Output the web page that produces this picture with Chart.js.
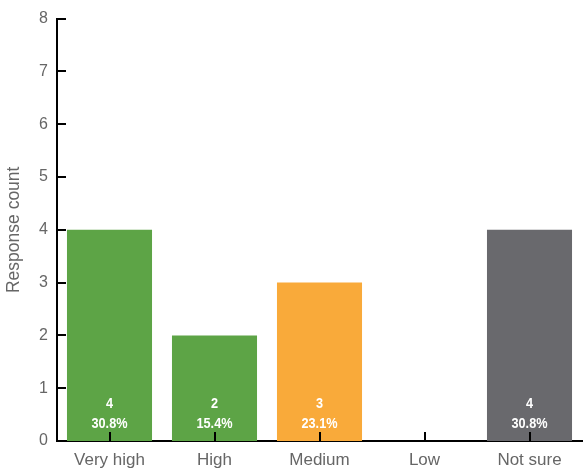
<!DOCTYPE html>
<html lang="en">
<head>
    <meta charset="UTF-8">
    <title>Response count</title>
    <script src="https://cdn.jsdelivr.net/npm/chart.js"></script>
    <style>
        body { margin: 0; background: #fff; }
        #wrap { width: 583px; height: 472px; }
    </style>
</head>
<body>
    <div id="wrap"><canvas id="chart"></canvas></div>

    <script>
        const categories = ['Very high', 'High', 'Medium', 'Low', 'Not sure'];
        const counts = [4, 2, 3, 0, 4];
        const barColors = ['#5da446', '#5da446', '#f9aa3a', '#5da446', '#69696d'];
        const yTicks = [0, 1, 2, 3, 4, 5, 6, 7, 8];

        const total = counts.reduce((a, b) => a + b, 0);

        // labels inside the bars, near the base (squeezed to look condensed)
        const barLabels = {
            id: 'barLabels',
            afterDatasetsDraw(chart) {
                const ctx = chart.ctx;
                const meta = chart.getDatasetMeta(0);
                const base = chart.scales.y.getPixelForValue(0);
                const sx = 0.82;
                ctx.save();
                ctx.fillStyle = '#fff';
                ctx.textAlign = 'center';
                ctx.textBaseline = 'middle';
                ctx.font = 'bold 15.5px "Liberation Sans", Arial, sans-serif';
                ctx.scale(sx, 1);
                meta.data.forEach((bar, i) => {
                    if (!counts[i]) return;
                    const pct = (counts[i] / total * 100).toFixed(1) + '%';
                    ctx.fillText(String(counts[i]), bar.x / sx, base - 37);
                    ctx.fillText(pct, bar.x / sx, base - 17);
                });
                ctx.restore();
            }
        };

        // ticks pointing inwards, drawn over the bars
        const innerTicks = {
            id: 'innerTicks',
            afterDatasetsDraw(chart) {
                const ctx = chart.ctx;
                const x = chart.scales.x, y = chart.scales.y;
                const left = chart.chartArea.left, bottom = chart.chartArea.bottom;
                ctx.save();
                ctx.strokeStyle = '#000';
                ctx.lineWidth = 2;
                ctx.beginPath();
                y.ticks.forEach((t, i) => {
                    const py = Math.round(y.getPixelForTick(i));
                    ctx.moveTo(left, py);
                    ctx.lineTo(left + 9, py);
                });
                x.ticks.forEach((t, i) => {
                    const px = Math.round(x.getPixelForTick(i));
                    ctx.moveTo(px, bottom);
                    ctx.lineTo(px, bottom - 9);
                });
                ctx.stroke();
                ctx.restore();
            }
        };

        new Chart(document.getElementById('chart'), {
            type: 'bar',
            data: {
                labels: categories,
                datasets: [{
                    data: counts,
                    backgroundColor: barColors,
                    categoryPercentage: 1,
                    barPercentage: 0.81
                }]
            },
            options: {
                responsive: true,
                maintainAspectRatio: false,
                animation: false,
                layout: { padding: { top: 17, right: 1, left: 0, bottom: 0 } },
                plugins: { legend: { display: false }, tooltip: { enabled: false } },
                scales: {
                    x: {
                        grid: { display: false, drawTicks: false },
                        border: { display: true, color: '#000', width: 2 },
                        ticks: { color: '#666', font: { family: 'Liberation Sans', size: 17 }, padding: 9 },
                        afterFit(scale) { scale.height = 31; }
                    },
                    y: {
                        min: 0,
                        max: 8,
                        afterBuildTicks(scale) { scale.ticks = yTicks.map(v => ({ value: v })); },
                        grid: { display: false, drawTicks: false },
                        border: { display: true, color: '#000', width: 2 },
                        ticks: { color: '#666', font: { family: 'Liberation Sans', size: 16 }, padding: 9 },
                        title: {
                            display: true,
                            text: 'Response count',
                            color: '#666',
                            font: { family: 'Liberation Sans', size: 17.5 },
                            padding: { top: 4, bottom: 6 }
                        },
                        afterFit(scale) { scale.width = 57; }
                    }
                }
            },
            plugins: [barLabels, innerTicks]
        });
    </script>
</body>
</html>
